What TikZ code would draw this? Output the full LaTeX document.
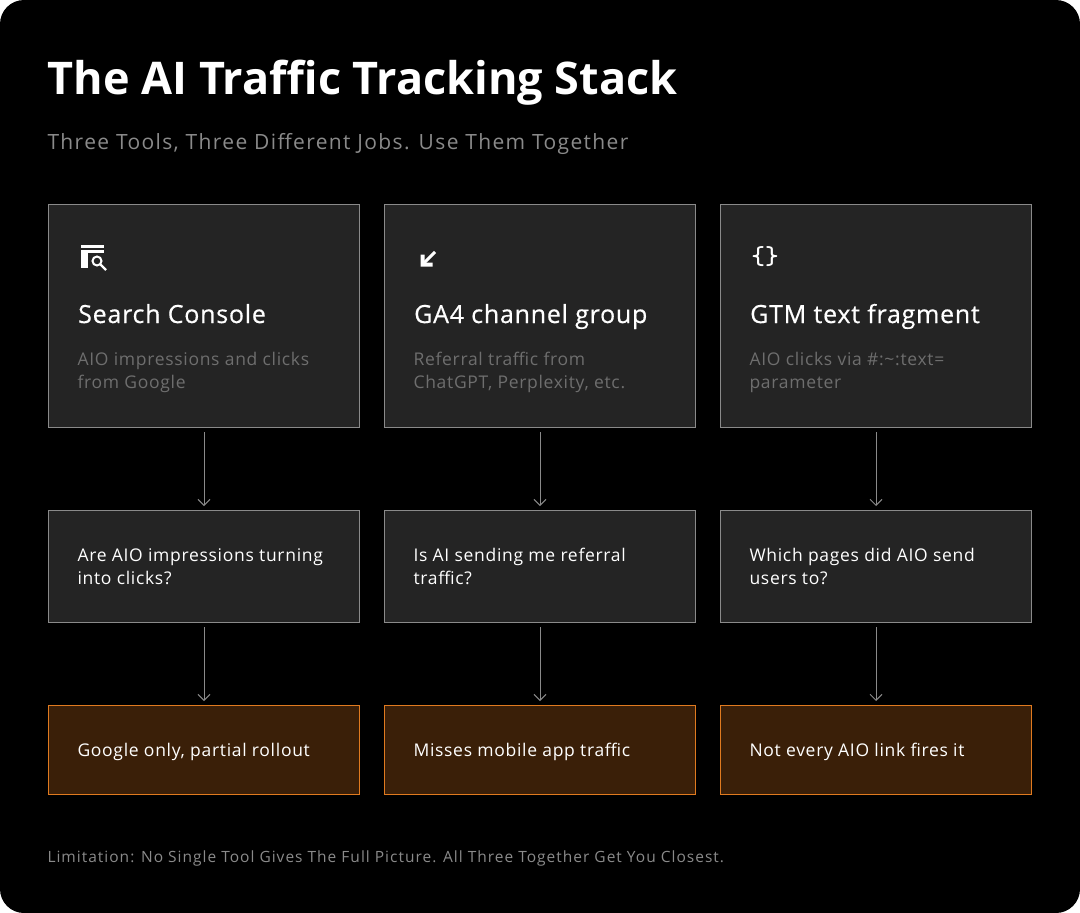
\documentclass[tikz,border=0pt]{standalone}
\usepackage{fontspec}
\setmainfont{Open Sans}
\newfontfamily\headfont[FakeBold=0.5,LetterSpace=3]{Open Sans}
\newfontfamily\widefont[LetterSpace=4]{Open Sans}
\newfontfamily\widerfont[LetterSpace=6.5]{Open Sans}
\usetikzlibrary{positioning,arrows.meta}
\definecolor{panel}{HTML}{242424}
\definecolor{edge}{HTML}{8A8A8A}
\definecolor{muted}{HTML}{6E6E6E}
\definecolor{warnfill}{HTML}{3A1F08}
\definecolor{warnedge}{HTML}{E07A1F}
\tikzset{
  toolbox/.style={draw=edge, fill=panel, line width=1pt, minimum width=311pt, minimum height=223pt, anchor=north west},
  askbox/.style={draw=edge, fill=panel, line width=1pt, minimum width=311pt, minimum height=112pt, anchor=north west},
  limitbox/.style={draw=warnedge, fill=warnfill, line width=1pt, minimum width=311pt, minimum height=89pt, anchor=north west},
  flow/.style={draw=edge, line width=1pt, -{Straight Barb[length=6pt,width=12pt]}, shorten >=4pt, shorten <=4pt},
  heading/.style={white, anchor=base west, font=\headfont\fontsize{25}{30}\selectfont},
  detail/.style={muted, anchor=north west, align=left, font=\widefont\fontsize{17.5}{23}\selectfont},
  asktext/.style={white, anchor=north west, align=left, font=\widefont\fontsize{17.5}{23}\selectfont},
}
\begin{document}
\begin{tikzpicture}[x=1pt, y=-1pt]
    \useasboundingbox (0,0) rectangle (1080,913);
    \fill[white] (0,0) rectangle (1080,913);
    \fill[black, rounded corners=24pt] (0,0) rectangle (1080,913);

    % Title
    \node[white, anchor=west, font=\fontsize{45}{50}\selectfont\bfseries] (title) at (44,83) {The AI Traffic Tracking Stack};
    \node[edge, anchor=west, font=\widerfont\fontsize{21}{25}\selectfont] (subtitle) at (44,144) {Three Tools, Three Different Jobs. Use Them Together};

    % Columns
    \foreach \n/\x in {sc/48, ga/384, gtm/720} {
        \node[toolbox] (\n-tool) at (\x,204) {};
        \node[askbox] (\n-ask) at (\x,510) {};
        \node[limitbox] (\n-limit) at (\x,705) {};
        \draw[flow] (\n-tool) -- (\n-ask);
        \draw[flow] (\n-ask) -- (\n-limit);
    }

    % Icons
    \fill[white] (81,245) rectangle (104,248);
    \fill[white] (81,250) rectangle (88,268);
    \fill[white] (81,250) rectangle (104,253);
    \draw[white, line width=2pt] (97,261) circle (4.5pt);
    \draw[white, line width=2.2pt] (100.5,264.5) -- (106,270);
    \coordinate (ga-icon) at (422,265);
    \draw[white, line width=3pt] (ga-icon) -- ++(13,-13);
    \fill[white] (ga-icon) ++(-1.5,1.5) -- ++(0,-12) -- ++(4,0) -- ++(0,8) -- ++(8,0) -- ++(0,4) -- cycle;
    \node[white, font=\ttfamily\fontsize{26}{28}\selectfont\bfseries] (gtm-icon) at (765,257) {\{\}};

    % Tool texts
    \node[heading, inner xsep=0pt] (sc-head) at (78,323) {Search Console};
    \node[heading, inner xsep=0pt] (ga-head) at (414,323) {GA4 channel group};
    \node[heading, inner xsep=0pt] (gtm-head) at (750,323) {GTM text fragment};
    \node[detail] (sc-detail) at (74,349) {AIO impressions and clicks\\from Google};
    \node[detail] (ga-detail) at (410,349) {Referral traffic from\\ChatGPT, Perplexity, etc.};
    \node[detail] (gtm-detail) at (746,349) {AIO clicks via \#:\textasciitilde:text=\\parameter};

    % Questions
    \node[asktext] (sc-q) at (74,545) {Are AIO impressions turning\\into clicks?};
    \node[asktext] (ga-q) at (410,545) {Is AI sending me referral\\traffic?};
    \node[asktext] (gtm-q) at (746,545) {Which pages did AIO send\\users to?};

    % Limits
    \node[asktext, anchor=west] (sc-l) at (74,752) {Google only, partial rollout};
    \node[asktext, anchor=west] (ga-l) at (410,752) {Misses mobile app traffic};
    \node[asktext, anchor=west] (gtm-l) at (746,752) {Not every AIO link fires it};

    % Footer
    \node[edge, anchor=west, font=\widerfont\fontsize{15.5}{18}\selectfont] (footer) at (44,858) {Limitation: No Single Tool Gives The Full Picture. All Three Together Get You Closest.};
\end{tikzpicture}
\end{document}
